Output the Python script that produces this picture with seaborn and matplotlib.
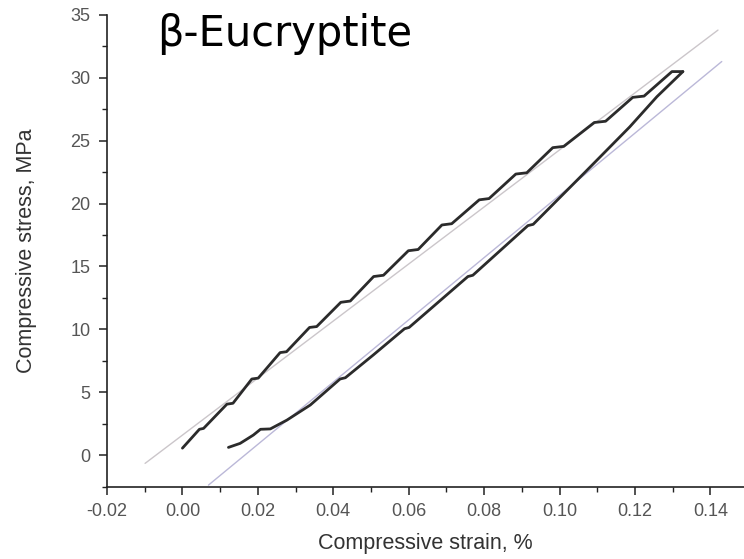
import matplotlib
matplotlib.use("Agg")
import matplotlib.pyplot as plt
from matplotlib.ticker import AutoMinorLocator
import seaborn as sns
import pandas as pd

# ---------------- data ----------------
loading_strain = [0.0000, 0.0045, 0.0056, 0.0118, 0.0134, 0.0184, 0.0201,
                  0.0259, 0.0276, 0.0337, 0.0356, 0.0420, 0.0445,
                  0.0507, 0.0533, 0.0599, 0.0625, 0.0688, 0.0714,
                  0.0787, 0.0813, 0.0884, 0.0913, 0.0982, 0.1011,
                  0.1092, 0.1122, 0.1194, 0.1224, 0.1298, 0.1327]
loading_stress = [0.55, 2.05, 2.12, 4.05, 4.12, 6.05, 6.12,
                  8.15, 8.22, 10.15, 10.22, 12.15, 12.25,
                  14.20, 14.30, 16.25, 16.35, 18.30, 18.40,
                  20.30, 20.40, 22.35, 22.45, 24.45, 24.55,
                  26.45, 26.55, 28.45, 28.55, 30.50, 30.50]

unloading_strain = [0.1327, 0.1258, 0.1186, 0.1066, 0.0930, 0.0916,
                    0.0770, 0.0757, 0.0601, 0.0589, 0.0506, 0.0432,
                    0.0418, 0.0339, 0.0277, 0.0233, 0.0207, 0.0188,
                    0.0153, 0.0122]
unloading_stress = [30.50, 28.50, 26.10, 22.45, 18.35, 18.25,
                    14.30, 14.20, 10.15, 10.05, 7.96, 6.15,
                    6.05, 3.98, 2.78, 2.08, 2.05, 1.59,
                    0.93, 0.61]

fit_load_strain = [-0.0099, 0.1420]
fit_load_stress = [-0.66, 33.80]
fit_unload_strain = [0.0069, 0.1430]
fit_unload_stress = [-2.39, 31.30]

x_ticks = [-0.02, 0.00, 0.02, 0.04, 0.06, 0.08, 0.10, 0.12, 0.14]
x_ticklabels = ["-0.02", "0.00", "0.02", "0.04", "0.06", "0.08", "0.10", "0.12", "0.14"]
y_ticks = [0, 5, 10, 15, 20, 25, 30, 35]
y_ticklabels = ["0", "5", "10", "15", "20", "25", "30", "35"]

title_text = "\u03b2-Eucryptite"
x_label = "Compressive strain, %"
y_label = "Compressive stress, MPa"

# ---------------- plotting ----------------
sns.set_theme(style="ticks")
plt.rcParams["font.family"] = ["Liberation Sans", "DejaVu Sans"]

fig = plt.figure(figsize=(7.44, 5.59), dpi=100)
ax = fig.add_axes([107 / 744, 1 - 486.5 / 559, 1 - 107 / 744, (486.5 - 15) / 559])

df_fit1 = pd.DataFrame({"strain": fit_load_strain, "stress": fit_load_stress})
df_fit2 = pd.DataFrame({"strain": fit_unload_strain, "stress": fit_unload_stress})
df_load = pd.DataFrame({"strain": loading_strain, "stress": loading_stress})
df_unload = pd.DataFrame({"strain": unloading_strain, "stress": unloading_stress})

sns.lineplot(data=df_fit1, x="strain", y="stress", ax=ax, sort=False,
             estimator=None, color="#cbc6ca", lw=1.0)
sns.lineplot(data=df_fit2, x="strain", y="stress", ax=ax, sort=False,
             estimator=None, color="#bbb8d8", lw=1.0)
sns.lineplot(data=df_load, x="strain", y="stress", ax=ax, sort=False,
             estimator=None, color="#2b2b2b", lw=2.0)
sns.lineplot(data=df_unload, x="strain", y="stress", ax=ax, sort=False,
             estimator=None, color="#2b2b2b", lw=2.0)

ax.set_xlim(-0.02, 0.1489)
ax.set_ylim(-2.5, 35)
ax.set_xticks(x_ticks)
ax.set_xticklabels(x_ticklabels)
ax.set_yticks(y_ticks)
ax.set_yticklabels(y_ticklabels)
ax.xaxis.set_minor_locator(AutoMinorLocator(2))
ax.yaxis.set_minor_locator(AutoMinorLocator(2))

ax.tick_params(which="major", direction="out", length=6, width=1.1,
               color="#222222", labelsize=13, labelcolor="#555555")
ax.tick_params(axis="x", which="major", pad=6)
ax.tick_params(axis="y", which="major", pad=6)
ax.tick_params(which="minor", direction="out", length=3.5, width=1.0,
               color="#222222")

sns.despine(ax=ax)
for s in ("left", "bottom"):
    ax.spines[s].set_color("#222222")
    ax.spines[s].set_linewidth(1.2)
ax.grid(False)

ax.set_xlabel(x_label, fontsize=15.5, color="#333333", labelpad=9)
ax.set_ylabel(y_label, fontsize=15.5, color="#333333", labelpad=24)

fig.text(157 / 744, 1 - 46 / 559, title_text, fontsize=30,
         family=["DejaVu Sans"], va="baseline", ha="left", color="#000000")

fig.savefig("out.png", dpi=100, facecolor="white")
